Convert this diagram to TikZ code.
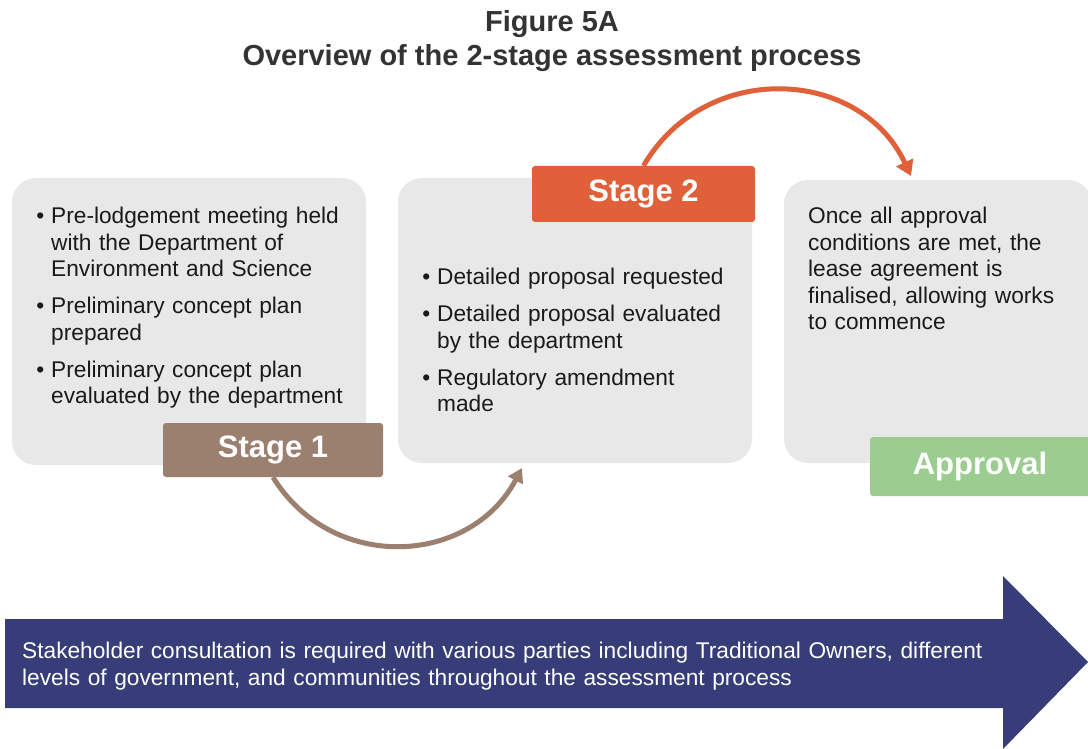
\documentclass[tikz,border=0pt]{standalone}
\usepackage{fontspec}
\setmainfont{Liberation Sans}
\usetikzlibrary{arrows.meta}
\definecolor{boxgray}{HTML}{E8E8E8}
\definecolor{stageone}{HTML}{9B8070}
\definecolor{stagetwo}{HTML}{E0603A}
\definecolor{approvalgreen}{HTML}{9ACD8F}
\definecolor{navy}{HTML}{363D78}
\definecolor{titlegray}{HTML}{333333}
\definecolor{bodytext}{HTML}{1A1A1A}
\newcommand\bul{\leavevmode\llap{\textbullet\hspace{7pt}}}
\tikzset{
  panel/.style={fill=boxgray, rounded corners=24pt, inner sep=0pt},
  stagelabel/.style={rounded corners=3pt, inner sep=0pt, text=white,
    font=\fontsize{31}{36}\selectfont\bfseries},
  bodytxt/.style={inner sep=0pt, anchor=north west, align=left, text=bodytext,
    font=\fontsize{22.7}{26.5}\selectfont},
  cyclearrow/.style={line width=5pt},
}
\begin{document}
\begin{tikzpicture}[x=1pt,y=-1pt]
\useasboundingbox (0,0) rectangle (1088,749);

% title
\node[anchor=north, align=center, text=titlegray,
      font=\fontsize{29}{34}\selectfont\bfseries, inner sep=0pt] (title) at (552,10)
  {Figure 5A\\Overview of the 2-stage assessment process};

% panels
\node[panel, minimum width=354pt, minimum height=287pt] (box1) at (189,321.5) {};
\node[panel, minimum width=354pt, minimum height=285pt] (box2) at (575,320.5) {};
\node[panel, minimum width=308pt, minimum height=283pt] (box3) at (938,321.5) {};

% panel texts
\node[bodytxt, text width=330pt] (t1) at (51,207)
  {\bul Pre-lodgement meeting held\\
   with the Department of\\
   Environment and Science\\[10.5pt]
   \bul Preliminary concept plan\\
   prepared\\[10.5pt]
   \bul Preliminary concept plan\\
   evaluated by the department};
\node[bodytxt, text width=310pt] (t2) at (437,268)
  {\bul Detailed proposal requested\\[10.5pt]
   \bul Detailed proposal evaluated\\
   by the department\\[10.5pt]
   \bul Regulatory amendment\\
   made};
\node[bodytxt, text width=270pt] (t3) at (808,207)
  {Once all approval\\
   conditions are met, the\\
   lease agreement is\\
   finalised, allowing works\\
   to commence};

% stage labels
\node[stagelabel, fill=stageone, minimum width=220pt, minimum height=54pt] (s1) at (273,450) {Stage 1};
\node[stagelabel, fill=stagetwo, minimum width=223pt, minimum height=56pt] (s2) at (643.5,194) {Stage 2};
\node[stagelabel, fill=approvalgreen, minimum width=222pt, minimum height=59pt] (s3) at (981,466.5) {\hspace{-2pt}Approval};

% cycle arrows
\coordinate (e1) at (522,468);
\coordinate (e2) at (911,176);
\draw[cyclearrow, stageone, -{Triangle[length=14pt,width=16pt]}]
  (s1.south) .. controls (332,573) and (470,566) .. (e1);
\draw[cyclearrow, stagetwo, -{Triangle[length=15pt,width=18pt]}]
  (s2.north) .. controls (705,60) and (860,67) .. (e2);

% stakeholder arrow
\fill[navy] (5,619) -- (1003,619) -- (1003,576) -- (1088,662) -- (1003,749)
  -- (1003,708) -- (5,708) -- cycle;
\node[inner sep=0pt, anchor=north west, align=left, text=white, text width=990pt,
      font=\fontsize{22.7}{27}\selectfont] (band) at (22,642)
  {Stakeholder consultation is required with various parties including Traditional Owners, different\\
   levels of government, and communities throughout the assessment process};
\end{tikzpicture}
\end{document}
